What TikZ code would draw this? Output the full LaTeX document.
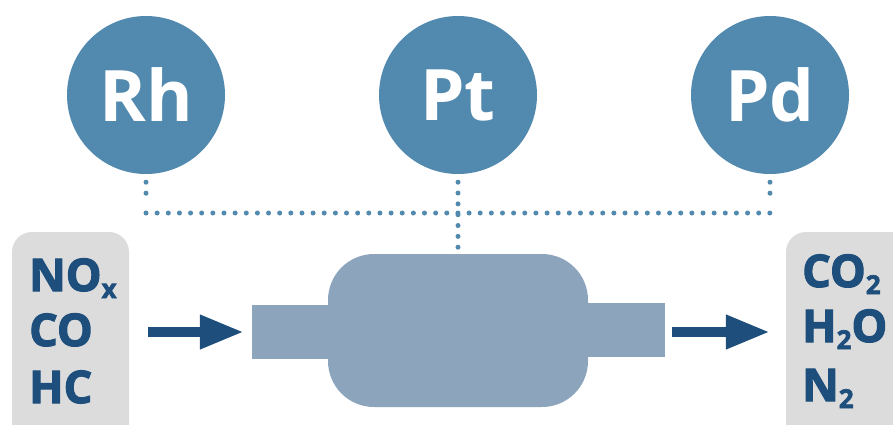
\documentclass[tikz,border=0pt]{standalone}
\usepackage{fontspec}
\setmainfont{Open Sans}
\usetikzlibrary{arrows.meta}

% slightly heavier bold for the gas formulas
\newfontfamily\heavyface{Open Sans}[BoldFeatures={FakeBold=2.5}]

\definecolor{metalblue}{HTML}{5289AE}
\definecolor{deepblue}{HTML}{1D4E7C}
\definecolor{shellblue}{HTML}{8DA4BD}
\definecolor{boxgray}{HTML}{DCDCDC}

% subscript in the gas formulas
\newcommand{\gsub}[1]{\raisebox{-7pt}{\fontsize{26}{26}\selectfont #1}}

\begin{document}
\begin{tikzpicture}[x=1pt,y=-1pt,
  metal/.style={circle, fill=metalblue, minimum size=158pt, inner sep=0pt,
    text=white, font=\fontsize{71}{71}\selectfont\bfseries},
  gasbox/.style={rectangle, fill=boxgray, rounded corners=20pt, inner sep=0pt},
  gas/.style={anchor=base west, inner sep=0pt, text=deepblue,
    font=\fontsize{45}{45}\selectfont\heavyface\bfseries},
  shell/.style={rectangle, fill=shellblue, inner sep=0pt},
  flow/.style={draw=deepblue, line width=10pt,
    -{Triangle[length=44pt,width=32pt]}},
  dotline/.style={draw=metalblue, line width=5pt, line cap=round,
    dash pattern=on 0pt off #1},
  dotline/.default=11pt]

\useasboundingbox (0,0) rectangle (893,424);
\clip (0,0) rectangle (893,424);

% catalytic metals
\node[metal] (rh) at (146,95) {Rh};
\node[metal] (pt) at (458,95) {Pt};
\node[metal] (pd) at (770,95) {Pd};

% dotted links between the metals and the converter
\coordinate (busL) at (146,213);
\coordinate (busR) at (770,213);
\draw[dotline=11.14pt] (busL) -- (busR);
\draw[dotline=11pt] ([yshift=-8pt]rh.south) -- ([yshift=-30pt]rh.south);
\draw[dotline=11pt] ([yshift=-8pt]pd.south) -- ([yshift=-30pt]pd.south);

% converter housing
\node[shell, minimum width=78pt, minimum height=54pt] (inpipe) at (291,332) {};
\node[shell, minimum width=79pt, minimum height=54pt] (outpipe) at (625.5,330) {};
\node[shell, rounded corners=46pt, minimum width=260pt, minimum height=153pt]
  (body) at (458,330.5) {};
\draw[dotline=10.83pt] ([yshift=-8pt]pt.south) -- (body.north);

% exhaust gases in and out
\node[gasbox, minimum width=117pt, minimum height=228pt] (inbox) at (70.5,346) {};
\node[gasbox, minimum width=130pt, minimum height=228pt] (outbox) at (851,346) {};

\node[gas] (nox) at (29,291) {NO\gsub{x}};
\node[gas] (co)  at (29,346) {CO};
\node[gas] (hc)  at (29,403) {HC};

\node[gas] (co2) at (802,287) {CO\gsub{2}};
\node[gas] (h2o) at (802,342) {H\gsub{2}O};
\node[gas] (n2)  at (802,401) {N\gsub{2}};

% flow arrows
\draw[flow, shorten <=19pt, shorten >=8pt] (inbox.east |- inpipe.west) -- (inpipe.west);
\draw[flow, shorten <=7pt, shorten >=16pt] (outpipe.east |- inpipe.west) -- (outbox.west |- inpipe.west);
\end{tikzpicture}
\end{document}
